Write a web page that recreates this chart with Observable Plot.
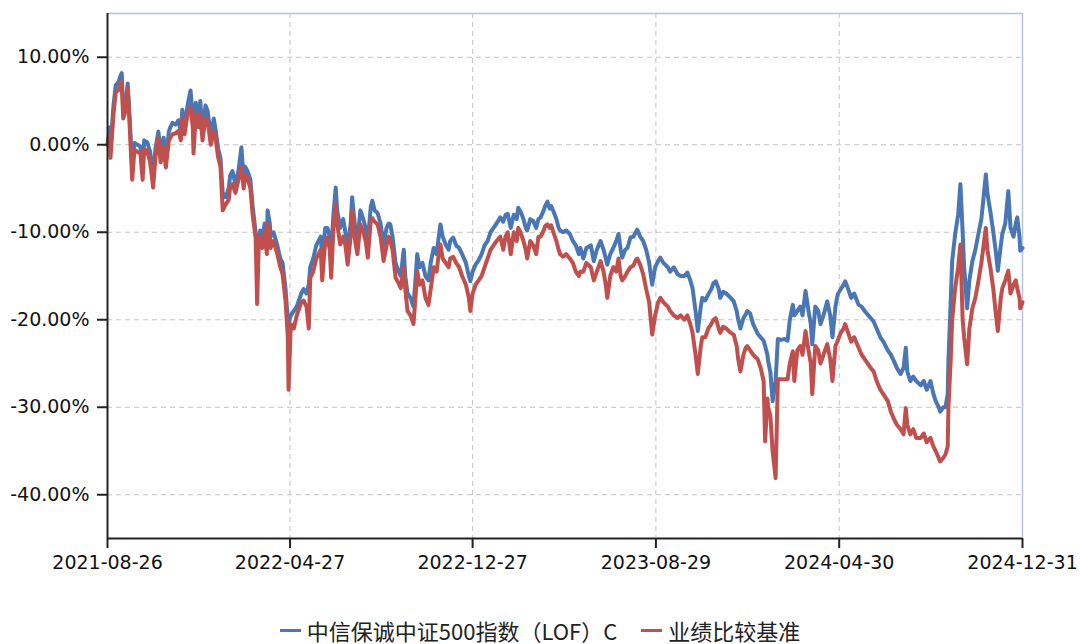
<!DOCTYPE html>
<html>
<head>
<meta charset="utf-8">
<script src="https://cdn.jsdelivr.net/npm/d3@7"></script>
<script src="https://cdn.jsdelivr.net/npm/@observablehq/plot@0.6"></script>
<style>
  html, body { margin: 0; padding: 0; background: #fff; }
  #chart svg { display: block; }
  #legend { display: flex; justify-content: center; align-items: center; gap: 24px; height: 28px; padding-top: 6px;
    font-family: "Noto Sans CJK SC", sans-serif; font-size: 22px; color: #222; }
  #legend .item { display: flex; align-items: center; gap: 6px; }
  #legend .sw { width: 21px; height: 3px; display: inline-block; }
</style>
</head>
<body>
<div id="chart"></div>
<div id="legend"></div>
<script>
// ---- data ----
const startDate = "2021-08-26";
const seriesNames = ["中信保诚中证500指数（LOF）C", "业绩比较基准"];
const seriesColors = ["#4a77b4", "#c0504d"];
const xTickLabels = ["2021-08-26", "2022-04-27", "2022-12-27", "2023-08-29", "2024-04-30", "2024-12-31"];
const yTicks = [-40, -30, -20, -10, 0, 10];

// days since startDate
const days = [
  0,3,4,8,11,15,17,19,21,24, 27,29,33,36,40,44,47,49,53,57, 61,64,68,71,75,78,82,84,87,91,
  95,98,100,103,107,111,114,115,118,122, 124,127,131,134,138,142,144,148,151,154,
  158,162,164,167,171,175,179,182,184,187, 191,194,198,200,202,204,207,210,213,214, 217,
  218,222,227,231,234,238,241,242,245,249, 253,255,259,262,266,269,271,275,279,282,
  285,287,291,294,297,299,302,305,307,311, 315,318,321,325,327,331,334,338,342,345,
  348,352,354,357,361,365,369,373,376,378, 381,385,389,392,396,398,401,405,409,412, 414,417,421,425,429,
  432,436,440,442,445,448,452,456,458,462, 466,470,474,479,483,485,488,492,496,500,
  504,508,512,516,520,525,529,532,535,539, 543,547,549,552,556,559,561,565,569,573,
  576,579,583,585,588,591,593,596,600,603, 605,609,613,618,622,626,630,632,
  636,640,646,650,654,659,663,666,668,672, 676,680,683,686,688,692,695,699,703,706,
  708,712,716,720,724,728,732,736,739,743, 749,752,757,762,766,771,775,779,782,786,
  789,793,795,799,803,807,810,813,817,819, 823,827,833,837,841,843,846,850,853,855,
  859,863,869,873,877,879,882,883,886,889, 893,896,900,905,909,912,916,918,922,926,
  929,933,937,940,942,946,950,953,957,962, 966,969,973,976,980,984,986,990,994,998,
  1004,1008,1012,1016,1020,1024,1028,1033,1037,1043, 1047,1051,1055,1060,1064,1067,1069,1073,
  1077,1081,1087,1091,1095,1100,1104,1107,1111,1113, 1117,1120,1123,1124,1127,1129,1133,1137,1140,1143,
  1145,1149,1152,1156,1160,1164,1168,1171,1174,1176, 1180,1184,1187,1190,1194,1196,1200,1204,1207,1211,
  1214,1216,1219,1220,1223
];

// fund cumulative return, %
const fund = [
  0,2.0,-0.5,4.5,6.8,7.2,7.8,8.2,3.8,4.5, 7.0,4.0,-2.5,0.2,0.0,-0.2,-2.5,0.5,0.3,-0.8,
  -3.8,-0.5,1.5,-0.8,0.8,-1.5,1.5,2.0,2.5,2.3, 2.8,1.5,4.0,2.0,4.5,6.2,3.0,0.5,4.8,3.0,
  5.0,1.5,4.5,3.8,1.0,3.0,2.0,-0.5,-1.5,-5.5, -6.0,-5.0,-3.5,-3.0,-4.5,-3.0,-0.3,-4.0,-2.5,-3.0,
  -4.0,-7.0,-10.0,-13.0,-11.0,-9.8,-11.0,-9.0,-11.5,-7.5, -9.0,
  -10.5,-10.0,-11.5,-13.0,-13.5,-16.5,-20.0,-20.5,-19.5,-19.0, -18.5,-18.0,-17.0,-16.5,-17.0,-16.0,-14.0,-13.0,-11.5,-11.0,
  -10.5,-13.0,-9.5,-9.5,-10.5,-12.0,-8.0,-4.9,-7.5,-9.5, -8.5,-10.0,-12.0,-9.0,-6.0,-9.5,-11.0,-7.5,-8.5,-9.5,
  -11.0,-7.0,-6.4,-7.5,-7.8,-9.0,-11.5,-9.5,-9.0,-9.1, -10.5,-13.5,-14.5,-15.0,-12.0,-15.0,-17.0,-17.5,-18.5,-15.0,
  -12.5,-14.0,-13.5,-15.0,-15.5,
  -13.5,-11.8,-12.5,-11.0,-9.1,-10.5,-11.4,-12.0,-11.0,-10.6, -11.5,-11.8,-12.5,-13.5,-15.0,-15.6,-14.5,-13.7,-13.2,-12.5,
  -11.5,-11.0,-10.0,-9.5,-9.0,-8.3,-8.8,-8.0,-7.9,-9.5, -8.0,-8.5,-7.2,-7.6,-8.5,-9.5,-9.8,-8.5,-8.7,-9.5,
  -8.5,-8.3,-7.5,-7.0,-6.5,-7.3,-7.0,-7.6,-8.5,-9.5, -9.8,-10.0,-9.8,-10.2,-11.0,-11.5,-12.5,-11.8,
  -13.0,-11.8,-11.5,-13.3,-12.0,-11.0,-12.0,-13.0,-13.7,-12.5, -11.8,-11.0,-10.2,-12.0,-12.9,-12.0,-11.8,-10.6,-10.5,-10.0,
  -9.7,-10.5,-11.0,-12.0,-13.5,-16.0,-14.0,-13.3,-12.9,-13.5, -14.0,-14.5,-14.0,-14.8,-15.0,-15.0,-14.6,-15.5,-16.4,-19.0,
  -21.3,-18.5,-17.5,-17.8,-17.1,-16.5,-15.8,-15.6,-16.5,-17.5, -16.8,-17.0,-17.5,-17.9,-19.0,-20.0,-21.0,-19.8,-19.4,-19.0,
  -19.3,-20.5,-21.6,-22.0,-22.4,-23.0,-24.0,-24.7,-26.0,-29.3, -27.0,-22.2,-22.3,-22.2,-22.4,-20.0,-18.3,-19.5,-19.0,-18.5,
  -19.5,-16.7,-19.0,-20.5,-22.8,-18.5,-19.0,-20.5,-19.5,-17.9, -19.5,-22.0,-18.5,-17.1,-16.5,-16.0,-15.6,-16.5,-17.5,-17.0,
  -18.3,-18.5,-19.0,-19.4,-19.8,-20.2,-21.0,-22.0,-22.5,-23.5, -24.0,-24.7,-25.5,-26.2,-25.5,-23.2,-25.9,-27.0,
  -26.5,-27.0,-27.5,-27.0,-28.0,-27.0,-28.5,-29.3,-30.0,-30.5, -30.0,-30.0,-28.5,-24.7,-18.0,-13.3,-10.2,-8.0,-4.5,-10.0,
  -14.0,-18.7,-15.5,-13.3,-12.0,-10.2,-8.5,-6.0,-3.4,-5.5, -7.6,-10.0,-12.0,-14.4,-11.5,-10.2,-9.0,-5.3,-9.5,-10.5,
  -9.0,-8.3,-10.5,-12.1,-11.8
];

// benchmark cumulative return, %
const bench = [
  0,1.0,-1.5,3.5,6.0,6.3,7.0,7.2,3.0,3.8, 6.5,3.3,-4.0,-0.6,-0.8,-1.0,-4.0,-0.5,-0.7,-2.0,
  -4.9,-1.5,0.8,-2.0,-0.3,-2.6,0.5,0.8,1.2,1.3, 1.6,0.5,3.0,1.2,3.5,4.3,2.0,-1.0,3.5,2.0,
  3.5,0.5,3.0,2.7,0.0,1.5,1.0,-1.5,-2.5,-7.5, -6.8,-6.3,-4.8,-4.5,-5.5,-4.0,-2.5,-5.0,-3.5,-3.8,
  -5.0,-8.0,-10.6,-18.2,-12.0,-10.5,-11.8,-10.0,-12.5,-9.0, -10.0,
  -11.8,-11.0,-12.5,-14.0,-14.8,-17.9,-22.0,-28.0,-20.5,-21.0, -19.5,-19.0,-18.0,-17.8,-18.5,-21.0,-15.2,-14.5,-13.0,-12.5,
  -12.0,-15.5,-11.0,-10.6,-12.0,-15.2,-9.5,-6.8,-9.0,-11.4, -10.5,-11.5,-13.7,-10.5,-7.5,-11.0,-12.5,-9.1,-10.0,-11.0,
  -12.9,-8.5,-8.4,-8.8,-9.1,-10.5,-13.3,-11.5,-10.5,-11.0, -12.0,-15.2,-15.8,-16.4,-14.0,-16.5,-19.0,-19.5,-20.5,-17.0,
  -14.4,-16.0,-15.5,-17.5,-18.3,
  -16.5,-14.0,-14.5,-13.0,-11.4,-13.0,-13.5,-14.0,-13.0,-12.8, -13.5,-14.0,-15.0,-16.0,-17.5,-19.0,-17.0,-16.0,-15.5,-15.0,
  -14.0,-13.0,-12.0,-11.5,-11.0,-10.5,-12.0,-10.5,-10.0,-12.5, -10.0,-11.0,-9.5,-10.0,-11.0,-12.0,-13.0,-11.0,-11.5,-12.5,
  -10.5,-10.5,-9.8,-9.3,-9.1,-9.5,-9.2,-10.0,-11.0,-12.0, -12.5,-12.8,-12.5,-13.0,-13.5,-14.5,-15.0,-14.5,
  -14.5,-13.5,-14.0,-15.5,-14.5,-13.3,-14.5,-16.0,-17.5,-15.0, -14.0,-14.5,-13.0,-15.0,-15.5,-15.0,-14.5,-14.0,-13.8,-13.2,
  -13.0,-13.7,-14.8,-16.5,-18.0,-21.7,-19.5,-18.0,-17.5,-18.0, -18.5,-19.0,-19.5,-19.8,-19.5,-20.0,-19.5,-20.5,-21.5,-24.0,
  -26.2,-23.0,-22.0,-22.0,-21.0,-20.5,-20.0,-19.8,-21.0,-21.5, -20.8,-21.0,-21.5,-21.7,-23.0,-24.5,-25.9,-24.0,-23.2,-23.0,
  -23.5,-24.0,-24.5,-25.5,-27.0,-33.9,-29.0,-30.0,-31.0,-35.0, -38.1,-26.8,-26.8,-26.8,-26.8,-25.0,-23.6,-27.0,-23.5,-23.0,
  -24.0,-21.3,-23.5,-25.0,-28.5,-23.0,-23.5,-25.0,-24.0,-22.8, -24.5,-27.0,-23.0,-22.4,-21.5,-21.0,-20.5,-21.5,-22.5,-22.0,
  -23.2,-24.0,-24.5,-25.0,-25.5,-25.9,-27.0,-28.0,-28.5,-29.3, -30.5,-31.3,-32.0,-32.5,-33.1,-30.1,-32.0,-33.1,
  -32.5,-33.5,-33.5,-33.0,-34.0,-33.5,-34.5,-35.0,-35.8,-36.2, -35.8,-35.4,-34.5,-30.0,-24.7,-20.0,-16.4,-14.0,-11.4,-20.0,
  -22.0,-25.1,-21.0,-18.7,-17.5,-15.6,-13.5,-11.5,-9.5,-12.0, -14.0,-16.5,-19.0,-21.3,-17.5,-16.4,-15.5,-14.4,-17.0,-16.0,
  -15.5,-16.4,-17.5,-18.7,-18.0
];

// ---- build ----
const parse = d3.utcParse("%Y-%m-%d");
const t0 = parse(startDate);
const rows = [];
days.forEach((d, i) => {
  const date = d3.utcDay.offset(t0, d);
  rows.push({date, value: fund[i], series: seriesNames[0]});
  rows.push({date, value: bench[i], series: seriesNames[1]});
});
const xTicks = xTickLabels.map(parse);
const xDomain = [xTicks[0], xTicks[xTicks.length - 1]];
const yDomain = [-45, 15];
const fmtPct = d => d.toFixed(2) + "%";
const font = "DejaVu Sans, sans-serif";

const chart = Plot.plot({
  width: 1080,
  height: 610,
  marginLeft: 107,
  marginRight: 58,
  marginTop: 13,
  marginBottom: 72,
  style: { fontFamily: font, fontSize: "19px", color: "#222", background: "#fff" },
  x: { type: "utc", domain: xDomain, label: null },
  y: { domain: yDomain, label: null },
  marks: [
    Plot.gridY(yTicks, { stroke: "#c4c4c4", strokeOpacity: 1, strokeDasharray: "5,4" }),
    Plot.gridX(xTicks, { stroke: "#c4c4c4", strokeOpacity: 1, strokeDasharray: "5,4" }),
    Plot.ruleY([yDomain[1]], { stroke: "#b7c3d9", strokeWidth: 1.5 }),
    Plot.ruleX([xDomain[1]], { stroke: "#b7c3d9", strokeWidth: 1.5 }),
    Plot.line(rows.filter(r => r.series === seriesNames[0]), {
      x: "date", y: "value", stroke: seriesColors[0], strokeWidth: 4, strokeLinejoin: "round"
    }),
    Plot.line(rows.filter(r => r.series === seriesNames[1]), {
      x: "date", y: "value", stroke: seriesColors[1], strokeWidth: 4, strokeLinejoin: "round"
    }),
    Plot.axisY(yTicks, { tickFormat: fmtPct, tickSize: 10, tickPadding: 8, stroke: "#222", strokeWidth: 2, fill: "#111" }),
    Plot.axisX(xTicks, { tickFormat: d3.utcFormat("%Y-%m-%d"), tickSize: 10, tickPadding: 7, stroke: "#222", strokeWidth: 2, fill: "#111" }),
    Plot.ruleX([xDomain[0]], { stroke: "#222", strokeWidth: 2 }),
    Plot.ruleY([yDomain[0]], { stroke: "#222", strokeWidth: 2 })
  ]
});
document.getElementById("chart").appendChild(chart);

const legend = document.getElementById("legend");
seriesNames.forEach((name, i) => {
  const item = document.createElement("span");
  item.className = "item";
  const sw = document.createElement("span");
  sw.className = "sw";
  sw.style.background = seriesColors[i];
  const tx = document.createElement("span");
  tx.textContent = name;
  item.appendChild(sw);
  item.appendChild(tx);
  legend.appendChild(item);
});
</script>
</body>
</html>
